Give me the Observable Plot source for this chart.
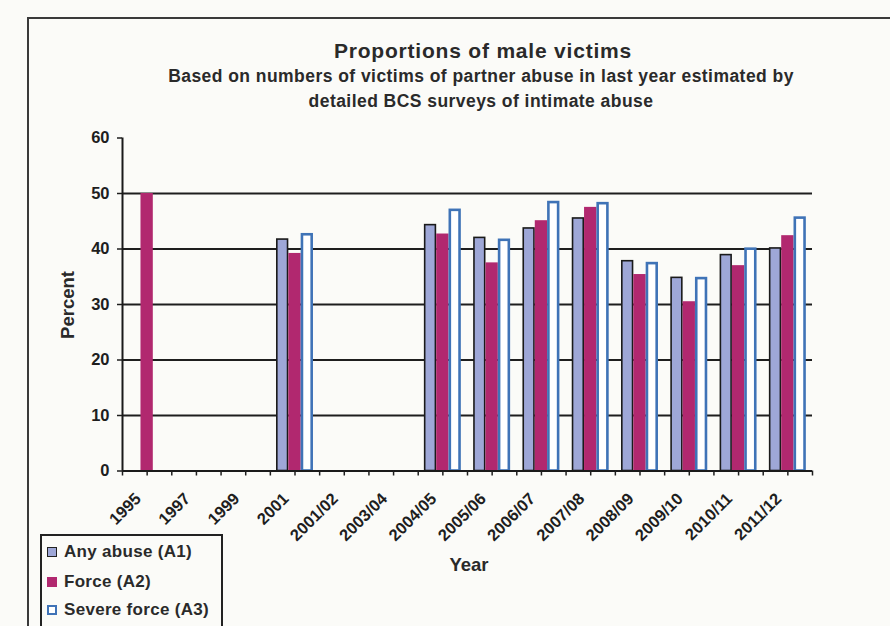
<!DOCTYPE html>
<html>
<head>
<meta charset="utf-8">
<script src="https://cdn.jsdelivr.net/npm/d3@7"></script>
<script src="https://cdn.jsdelivr.net/npm/@observablehq/plot@0.6"></script>
<style>
  html, body { margin: 0; padding: 0; background: #fbfbf8; }
  #wrap { position: relative; width: 890px; height: 626px; overflow: hidden; font-family: "Liberation Sans", Arial, sans-serif; color: #2a2a2a; }
  #frame { position: absolute; left: 27px; top: 17px; width: 900px; height: 700px; border-left: 2px solid #3a3a3a; border-top: 2px solid #3a3a3a; }
  #chart { position: absolute; left: 0; top: 0; }
  #chart svg text { font-weight: bold !important; font-size: 16.5px !important; font-family: "Liberation Sans", Arial, sans-serif; }
  .title { position: absolute; left: 183px; width: 600px; top: 39px; text-align: center; font-weight: bold; font-size: 21px; letter-spacing: 0.8px; white-space: nowrap; }
  .subtitle { position: absolute; left: 81px; width: 800px; top: 64px; text-align: center; font-weight: bold; font-size: 17.5px; letter-spacing: 0.45px; line-height: 25px; white-space: nowrap; }
  .ylabel { position: absolute; left: 68px; top: 305px; transform: translate(-50%, -50%) rotate(-90deg); font-weight: bold; font-size: 18.5px; white-space: nowrap; }
  .xlabel { position: absolute; left: 469px; top: 565px; transform: translate(-50%, -50%); font-weight: bold; font-size: 18.5px; white-space: nowrap; }
  #legend { position: absolute; left: 40px; top: 534px; width: 179px; height: 90px; border: 2px solid #222; }
  .row { position: absolute; left: 5px; height: 20px; display: flex; align-items: center; font-weight: bold; font-size: 17px; letter-spacing: 0.3px; white-space: nowrap; }
  .sw { width: 8px; height: 8px; margin-right: 7px; box-sizing: content-box; }
</style>
</head>
<body>
<div id="wrap">
  <div id="frame"></div>
  <div id="chart"></div>
  <div class="title">Proportions of male victims</div>
  <div class="subtitle">Based on numbers of victims of partner abuse in last year estimated by<br>detailed BCS surveys of intimate abuse</div>
  <div class="ylabel">Percent</div>
  <div class="xlabel">Year</div>
  <div id="legend"></div>
</div>
<script>
// ---- data ----
const categories = ["1995","1997","1999","2001","2001/02","2003/04","2004/05","2005/06","2006/07","2007/08","2008/09","2009/10","2010/11","2011/12"];
const seriesNames = ["Any abuse (A1)", "Force (A2)", "Severe force (A3)"];
const anyAbuse    = [null, null, null, 41.7, null, null, 44.3, 42.0, 43.7, 45.5, 37.8, 34.8, 38.9, 40.1];
const force       = [50.0, null, null, 39.2, null, null, 42.7, 37.5, 45.1, 47.5, 35.4, 30.5, 37.0, 42.4];
const severeForce = [null, null, null, 42.8, null, null, 47.2, 41.8, 48.6, 48.4, 37.6, 34.9, 40.2, 45.8];
const yTicks = [0, 10, 20, 30, 40, 50, 60];

// ---- styles ----
const colA1 = "#9ea7d7", colA2 = "#b1286f", colA3 = "#3f73b7";
const groupWidth = 0.75;            // fraction of a category occupied by the 3 bars
const barW = groupWidth / 3;

function rows(values, s) {
  return values.map((v, i) => ({cat: categories[i], i, s, v}))
    .filter(d => d.v != null)
    .map(d => ({...d, x1: d.i - groupWidth / 2 + d.s * barW, x2: d.i - groupWidth / 2 + (d.s + 1) * barW}));
}
const dA1 = rows(anyAbuse, 0), dA2 = rows(force, 1), dA3 = rows(severeForce, 2);

const chart = Plot.plot({
  width: 890,
  height: 626,
  marginTop: 137.5,
  marginBottom: 155.5,
  marginLeft: 122,
  marginRight: 78,
  style: {background: "transparent", fontFamily: "Liberation Sans, Arial, sans-serif", fontSize: "16px", fontWeight: "bold", color: "#1e1e1e"},
  x: {type: "linear", domain: [-0.5, categories.length - 0.5]},
  y: {domain: [0, 60]},
  marks: [
    Plot.gridY({ticks: yTicks.filter(t => t > 0 && t < 60), stroke: "#1e1e1e", strokeOpacity: 1, strokeWidth: 1.8}),
    Plot.rectY(dA1, {x1: "x1", x2: "x2", y: "v", fill: colA1, stroke: "#1a1a1a", strokeWidth: 1.6, insetLeft: 0.8, insetRight: 0.8}),
    Plot.rectY(dA2, {x1: "x1", x2: "x2", y: "v", fill: colA2}),
    Plot.rectY(dA3, {x1: "x1", x2: "x2", y: "v", fill: "#ffffff", stroke: colA3, strokeWidth: 2.6, insetLeft: 1.3, insetRight: 1.3, insetTop: 1.3}),
    Plot.ruleY([0], {stroke: "#1a1a1a", strokeWidth: 2}),
    Plot.ruleX([-0.5], {stroke: "#1a1a1a", strokeWidth: 2}),
    Plot.axisY({ticks: yTicks, tickSize: 5, tickPadding: 8, label: null, strokeWidth: 1.5}),
    // tick marks at category centres and boundaries
    Plot.axisX({
      ticks: d3.range(-0.5, categories.length - 0.49, 0.5),
      tickSize: 5,
      tickFormat: () => "",
      label: null,
      strokeWidth: 1.5
    }),
    // rotated category labels
    Plot.axisX({
      ticks: d3.range(0, categories.length),
      tickSize: 0,
      tickPadding: 25,
      tickRotate: -45,
      tickFormat: d => categories[d],
      label: null,
      dx: -9
    })
  ]
});
document.getElementById("chart").appendChild(chart);

// ---- legend ----
const legendStyles = [
  {bg: colA1, border: "1px solid #222"},
  {bg: colA2, border: "1px solid " + colA2},
  {bg: "#ffffff", border: "2px solid " + colA3}
];
const legend = document.getElementById("legend");
const rowCenters = [15.7, 45.7, 74];
seriesNames.forEach((name, k) => {
  const r = document.createElement("div");
  r.className = "row";
  r.style.top = (rowCenters[k] - 10) + "px";
  const sw = document.createElement("span");
  sw.className = "sw";
  sw.style.background = legendStyles[k].bg;
  sw.style.border = legendStyles[k].border;
  if (k === 2) { sw.style.width = "6px"; sw.style.height = "6px"; }
  r.appendChild(sw);
  const t = document.createElement("span");
  t.textContent = name;
  r.appendChild(t);
  legend.appendChild(r);
});
</script>
</body>
</html>
